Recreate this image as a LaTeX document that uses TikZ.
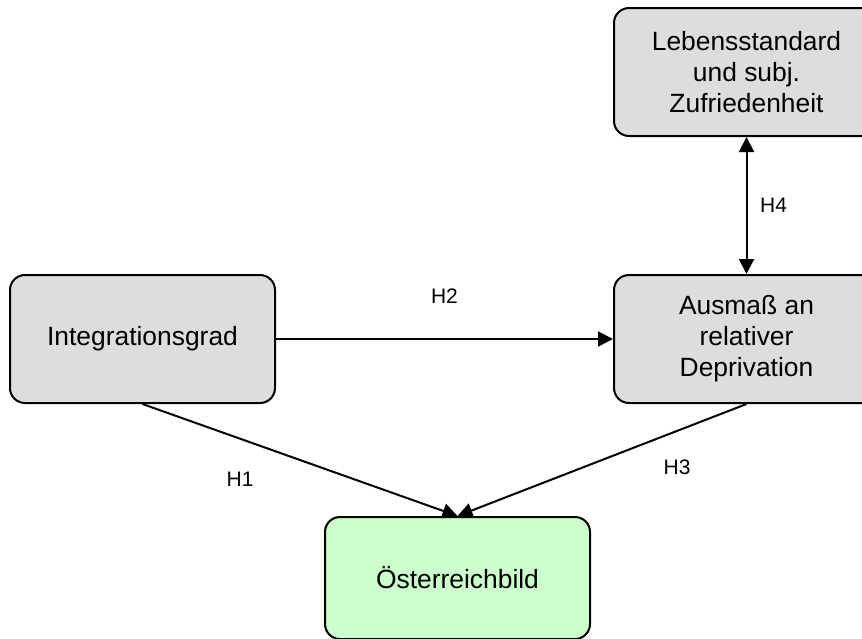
\documentclass[tikz,border=0pt]{standalone}
\usepackage{fontspec}
\setmainfont{Liberation Sans}
\usepackage{xcolor}
\usetikzlibrary{shapes, arrows.meta, positioning}

\definecolor{boxgray}{HTML}{DDDDDD}
\definecolor{boxgreen}{HTML}{CCFFCC}

\begin{document}
\begin{tikzpicture}[x=0.5pt, y=0.5pt, line width=1pt,
        >={Triangle[length=7.5pt, width=7.5pt]},
        box/.style={rectangle, rounded corners=7.5pt, draw, fill=boxgray,
            minimum width=132.5pt, minimum height=64pt, align=center,
            font=\fontsize{13.2pt}{15.5pt}\selectfont},
        hyp/.style={font=\fontsize{10.5pt}{12.5pt}\selectfont}]
        \useasboundingbox (0,0) rectangle (862,-638);

        \node (integ) [box] at (142.5,-339) {Integrationsgrad};
        \node (ausmass) [box, right=168.5pt of integ] {Ausmaß an\\relativer\\Deprivation};
        \node (leben) [box, above=68.5pt of ausmass] {Lebensstandard\\und subj.\\Zufriedenheit};
        \node (oest) [box, fill=boxgreen, minimum height=61pt,
            below right=56pt and 24pt of integ] {Österreichbild};

        \draw[<->] (leben) -- node (h4) [hyp, right=3pt] {H4} (ausmass);
        \draw[->] (integ) -- node (h2) [hyp, above=14pt] {H2} (ausmass);
        \draw[->] (integ.south) -- node (h1) [hyp, pos=0.31, below=13pt] {H1} (oest.north);
        \draw[->] (ausmass.south) -- node (h3) [hyp, pos=0.24, below=10.5pt] {H3} (oest.north);
    \end{tikzpicture}
\end{document}
